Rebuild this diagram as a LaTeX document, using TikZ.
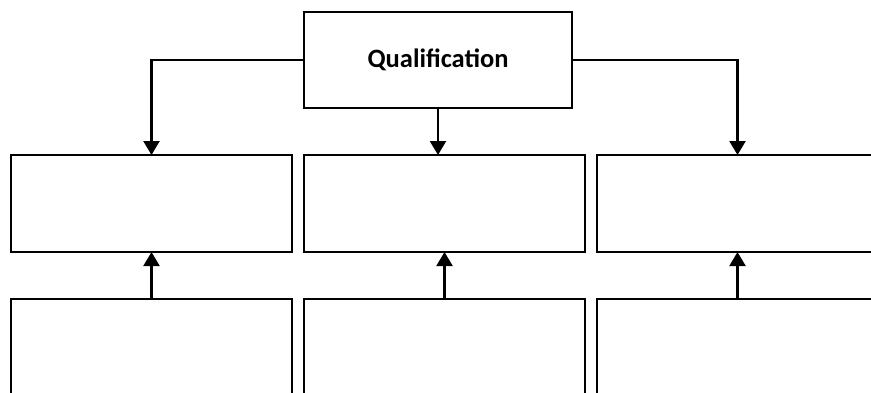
\documentclass[tikz,border=0pt]{standalone}
\usepackage{fontspec}
\setmainfont{Carlito}
\usetikzlibrary{arrows.meta}

\tikzset{
  box/.style={draw, line width=2.4pt, inner sep=0pt, outer sep=0pt,
              minimum width=281pt, minimum height=97pt},
  topbox/.style={box, minimum width=268pt, minimum height=96pt,
                 font=\fontsize{26.5}{30}\selectfont\bfseries},
  link/.style={line width=2.2pt, -{Triangle[width=16pt,length=14pt]}}
}

\begin{document}
\begin{tikzpicture}[x=1pt, y=-1pt]
  \useasboundingbox (0,0) rectangle (871,392);

  \node[topbox] (qual) at (438, 60) {Qualification}; % Top box

  % Middle row
  \node[box] (a1) at (151.5, 203.5) {};
  \node[box] (b1) at (444.5, 203.5) {};
  \node[box] (c1) at (737.5, 203.5) {};

  % Bottom row
  \node[box] (a2) at (151.5, 347.5) {};
  \node[box] (b2) at (444.5, 347.5) {};
  \node[box] (c2) at (737.5, 347.5) {};

  % Down arrows
  \draw[link] (qual.west) -| (a1.north);
  \draw[link] (qual.south) -- (qual.south |- b1.north);
  \draw[link] (qual.east) -| (c1.north);

  % Up arrows
  \draw[link] (a2.north) -- (a1.south);
  \draw[link] (b2.north) -- (b1.south);
  \draw[link] (c2.north) -- (c1.south);
\end{tikzpicture}
\end{document}
